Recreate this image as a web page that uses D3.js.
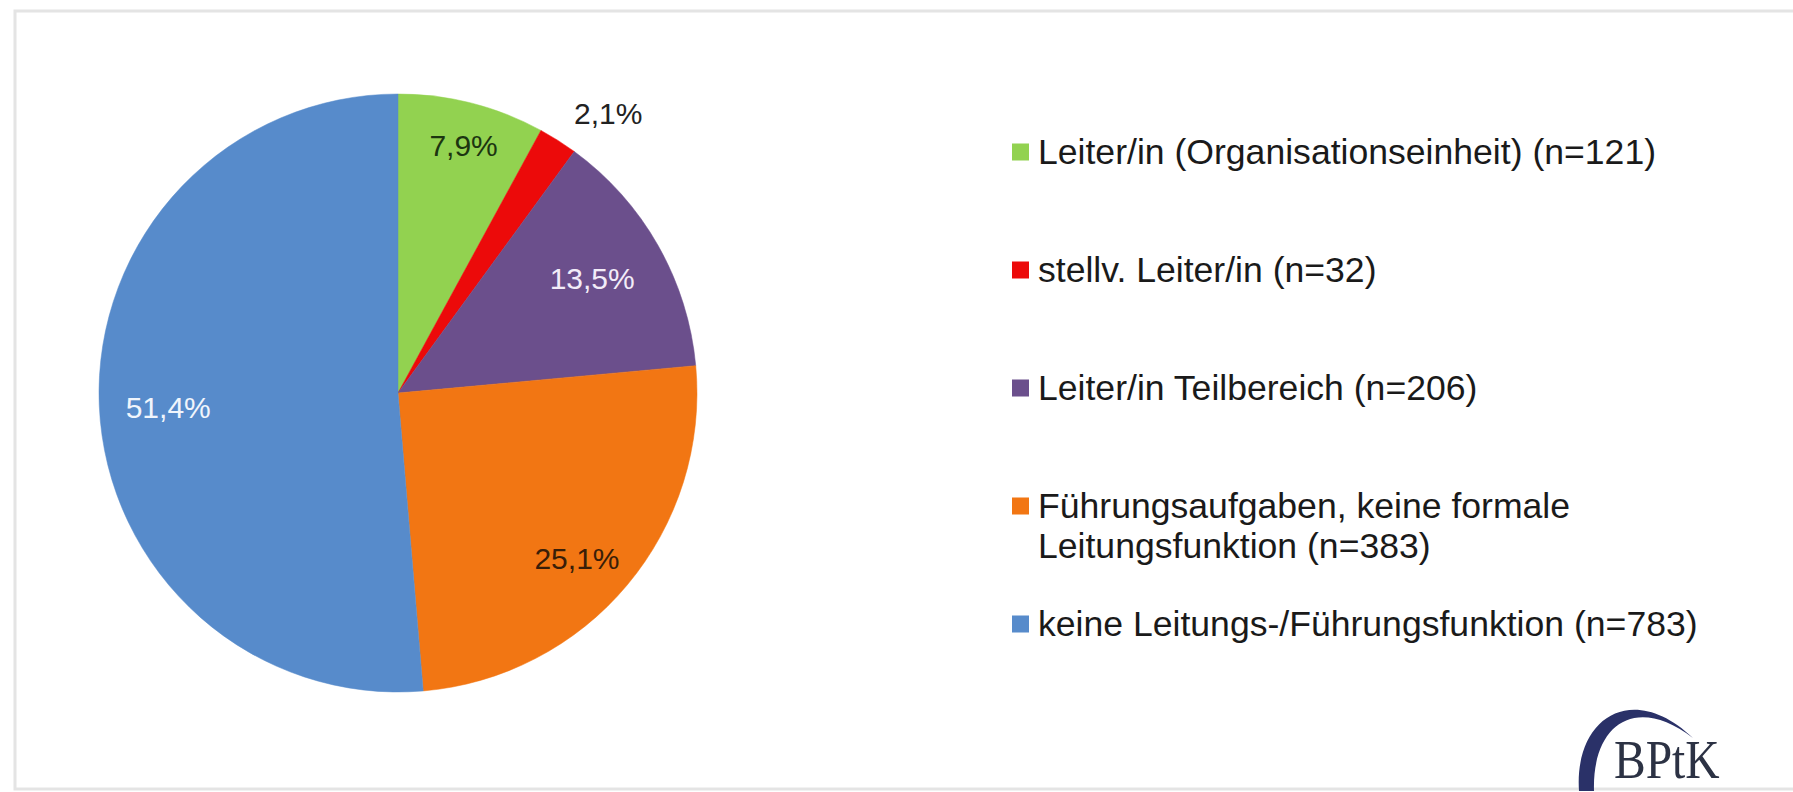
<!DOCTYPE html>
<html>
<head>
<meta charset="utf-8">
<script src="https://cdn.jsdelivr.net/npm/d3@7"></script>
<style>
  html, body { margin: 0; padding: 0; background: #ffffff; }
  svg { display: block; }
</style>
</head>
<body>
<svg id="chart" width="1793" height="792"></svg>
<script>
// ---- data ----
const categories = [
  "Leiter/in (Organisationseinheit) (n=121)",
  "stellv. Leiter/in (n=32)",
  "Leiter/in Teilbereich (n=206)",
  "Führungsaufgaben, keine formale|Leitungsfunktion (n=383)",
  "keine Leitungs-/Führungsfunktion (n=783)"
];
const counts = [121, 32, 206, 383, 783];
const percentLabels = ["7,9%", "2,1%", "13,5%", "25,1%", "51,4%"];

// ---- style / layout ----
const colors = ["#92d250", "#ec0a0a", "#6b4f8c", "#f27613", "#578bcb"];
const labelColors = ["#1c3510", "#222222", "#f2ecf8", "#3a1e08", "#f0f5fc"];
const labelRadiusFactor = [0.856, 1.17, 0.754, 0.816, 0.77];
const labelAngleShift = [0.01, 0.08, -0.017, 0.05, -0.02];

const svg = d3.select("#chart");
const W = 1793, H = 792;

// frame
svg.append("rect")
  .attr("x", 15).attr("y", 11)
  .attr("width", W).attr("height", 778)
  .attr("fill", "none")
  .attr("stroke", "#e4e4e4")
  .attr("stroke-width", 3);

const cx = 398, cy = 393, R = 299;
const g = svg.append("g").attr("transform", `translate(${cx},${cy})`);

const pie = d3.pie().value(d => d).sort(null);
const arcs = pie(counts);
const arc = d3.arc().innerRadius(0).outerRadius(R);

g.selectAll("path.slice")
  .data(arcs)
  .enter().append("path")
  .attr("class", "slice")
  .attr("d", arc)
  .attr("fill", (d, i) => colors[i])
  .attr("stroke", (d, i) => colors[i])
  .attr("stroke-width", 0.5);

g.selectAll("text.plabel")
  .data(arcs)
  .enter().append("text")
  .attr("class", "plabel")
  .attr("x", (d, i) => {
    const a = (d.startAngle + d.endAngle) / 2 + labelAngleShift[i];
    return Math.sin(a) * R * labelRadiusFactor[i];
  })
  .attr("y", (d, i) => {
    const a = (d.startAngle + d.endAngle) / 2 + labelAngleShift[i];
    return -Math.cos(a) * R * labelRadiusFactor[i];
  })
  .attr("text-anchor", "middle")
  .attr("dominant-baseline", "central")
  .attr("font-family", "Liberation Sans, Arial, sans-serif")
  .attr("font-size", 30)
  .attr("fill", (d, i) => labelColors[i])
  .text((d, i) => percentLabels[i]);

// legend
const legendY = d3.scalePoint().domain(d3.range(categories.length)).range([152, 624]);
const legend = svg.append("g");
categories.forEach((c, i) => {
  const y = legendY(i);
  legend.append("rect")
    .attr("x", 1012).attr("y", y - 8.5)
    .attr("width", 17).attr("height", 17)
    .attr("fill", colors[i]);
  const lines = c.split("|");
  lines.forEach((ln, j) => {
    legend.append("text")
      .attr("x", 1038)
      .attr("y", y + j * 40)
      .attr("dominant-baseline", "central")
      .attr("font-family", "Liberation Sans, Arial, sans-serif")
      .attr("font-size", 35.6)
      .attr("fill", "#1a1a1a")
      .text(ln);
  });
});

// logo
const logo = svg.append("g");
logo.append("path")
  .attr("d", "M1579,791 C1574,718 1632,680 1693,738 C1636,694 1592,724 1594,791 Z")
  .attr("fill", "#2a3168");
logo.append("text")
  .attr("transform", "translate(1614,778) scale(0.88,1)")
  .attr("font-family", "Liberation Serif, Times New Roman, serif")
  .attr("font-size", 54)
  .attr("fill", "#2c3244")
  .text("BPtK");
</script>
</body>
</html>
